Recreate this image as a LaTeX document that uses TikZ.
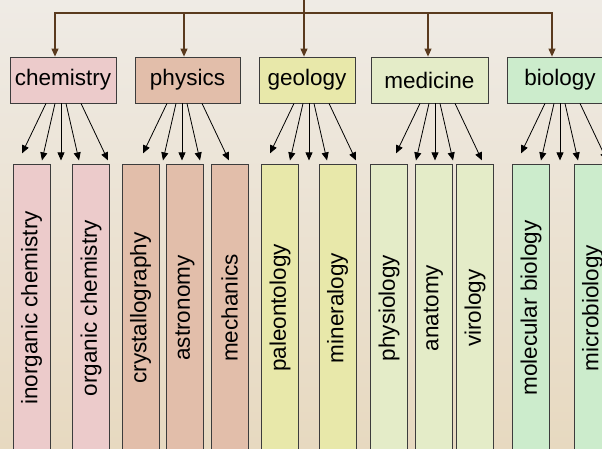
\documentclass[tikz,border=0pt]{standalone}
\usepackage{fontspec}
\setmainfont{Liberation Sans}
\usetikzlibrary{arrows.meta, positioning}
\definecolor{bgtop}{HTML}{EFEBE5}
\definecolor{bgmid}{HTML}{ECE4D6}
\definecolor{bgbot}{HTML}{E7D9C0}
\definecolor{boxline}{HTML}{3C3C3C}
\definecolor{busbrown}{HTML}{5A3A1E}
\definecolor{chemfill}{HTML}{ECCBCB}
\definecolor{physfill}{HTML}{E2BEAA}
\definecolor{geolfill}{HTML}{E8E8AA}
\definecolor{medifill}{HTML}{E4ECC8}
\definecolor{biolfill}{HTML}{CCECCC}

\begin{document}
\begin{tikzpicture}[
        x=1pt, y=1pt, >={Triangle[length=8pt,width=7pt]},
        field/.style={draw=boxline, line width=0.8pt, inner sep=0pt,
          font=\fontsize{22.5}{27}\selectfont, minimum height=46pt},
        branch/.style={field, rotate=90, minimum width=288pt, minimum height=37pt},
        bus/.style={draw=busbrown, line width=1.1pt, ->, >={Triangle[length=8pt,width=7pt,fill=busbrown]}},
        sub/.style={->, line width=0.8pt},
        ]
        \useasboundingbox (0,0) rectangle (602,-449);
        \clip (0,0) rectangle (602,-449);
        \shade[top color=bgtop, middle color=bgmid, bottom color=bgbot] (0,0) rectangle (602,-449);

        % fields
        \node[field, fill=chemfill, minimum width=106pt] (chem) at (63,-80)    {chemistry};
        \node[field, fill=physfill, minimum width=105pt] (phys) at (187.5,-80) {physics};
        \node[field, fill=geolfill, minimum width=96pt]  (geol) at (307,-80)   {geology};
        \node[field, fill=medifill, minimum width=117pt] (medi) at (429.5,-80) {medicine};
        \node[field, fill=biolfill, minimum width=106pt] (biol) at (560,-80)   {biology};

        % branches
        \node[branch, fill=chemfill] (inorg)   at (31.5,-308)  {inorganic chemistry};
        \node[branch, fill=chemfill] (org)     at (91,-308)    {organic chemistry};
        \node[branch, fill=physfill] (cryst)   at (140.5,-308) {crystallography};
        \node[branch, fill=physfill] (astro)   at (185,-308)   {astronomy};
        \node[branch, fill=physfill] (mech)    at (229.5,-308) {mechanics};
        \node[branch, fill=geolfill] (paleo)   at (280,-308)   {paleontology};
        \node[branch, fill=geolfill] (miner)   at (337.5,-308) {mineralogy};
        \node[branch, fill=medifill] (physio)  at (389,-308)   {physiology};
        \node[branch, fill=medifill] (anat)    at (433.5,-308) {anatomy};
        \node[branch, fill=medifill] (viro)    at (475,-308)   {virology};
        \node[branch, fill=biolfill] (molbio)  at (531,-308)   {molecular biology};
        \node[branch, fill=biolfill] (microbio) at (592.5,-308) {microbiology};

        % bus from the root
        \coordinate (root) at (304,0);
        \coordinate (bus) at (304,-13);
        \draw[bus] (root) -- (bus) -| ([xshift=-8pt]chem.north);
        \draw[bus] (bus) -| ([xshift=-3.5pt]phys.north);
        \draw[bus] (bus) -- ([xshift=-3pt]geol.north);
        \draw[bus] (bus) -| ([xshift=-1.5pt]medi.north);
        \draw[bus] (bus) -| ([xshift=-8pt]biol.north);

        % fans below each field
        \foreach \p/\h in {chem/-2, phys/-5.5, geol/2, medi/5.5, biol/0}{
          \coordinate (\p-hub) at ([xshift=\h pt]\p.south);
          \foreach \s/\e/\d in {-15/-39/50, -6/-19/57, 0/0/57, 5/18/57, 20/47/57}
            \draw[sub] ([xshift=\s pt]\p-hub) -- ([xshift=\e pt,yshift=-\d pt]\p-hub);
        }
      \end{tikzpicture}
\end{document}
